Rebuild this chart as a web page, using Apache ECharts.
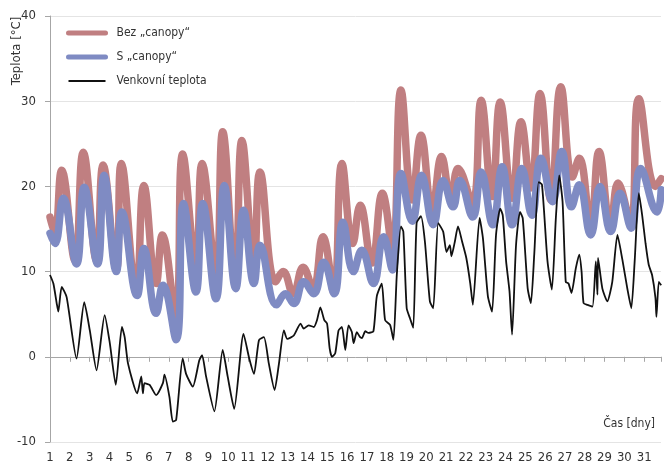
<!DOCTYPE html>
<html>
<head>
<meta charset="utf-8">
<script src="https://cdn.jsdelivr.net/npm/echarts@6/dist/echarts.min.js"></script>
<style>
  html, body { margin: 0; padding: 0; background: #fff; }
  #chart { width: 664px; height: 464px; }
</style>
</head>
<body>
<div id="chart"></div>
<script>
// [den, teplota °C]
var bezCanopy = [
  [1.0, 16.4], [1.25, 14.5], [1.59, 21.9], [2.26, 11.3], [2.68, 24.0], [3.35, 11.3],
  [3.68, 22.5], [4.35, 10.2], [4.6, 22.7], [5.35, 7.8], [5.74, 20.1], [6.36, 8.6],
  [6.67, 14.3], [7.34, 4.7], [7.7, 23.8], [8.37, 10.9], [8.68, 22.7], [9.38, 9.8],
  [9.72, 26.4], [10.35, 9.0], [10.69, 25.4], [11.3, 11.3], [11.6, 21.7], [12.39, 8.8],
  [12.77, 10.0], [13.28, 7.4], [13.78, 10.5], [14.28, 8.0], [14.78, 14.1], [15.32, 7.6],
  [15.74, 22.7], [16.29, 13.3], [16.66, 17.8], [17.25, 11.0], [17.78, 19.2], [18.29, 12.5],
  [18.72, 31.3], [19.29, 18.4], [19.73, 26.0], [20.3, 17.2], [20.77, 23.5], [21.24, 18.6],
  [21.6, 22.1], [22.32, 18.0], [22.77, 30.1], [23.32, 18.8], [23.73, 29.9], [24.33, 18.6],
  [24.78, 27.6], [25.28, 19.8], [25.74, 30.9], [26.29, 18.4], [26.79, 31.7], [27.38, 21.1],
  [27.72, 23.3], [28.3, 15.5], [28.72, 24.1], [29.31, 15.3], [29.68, 20.4], [30.31, 15.7],
  [30.73, 30.3], [31.57, 20.0], [31.86, 20.9]
];
var sCanopy = [
  [1.0, 14.5], [1.25, 13.3], [1.67, 18.6], [2.34, 10.9], [2.73, 19.9], [3.4, 10.9],
  [3.73, 21.3], [4.35, 10.0], [4.63, 17.0], [5.4, 7.2], [5.74, 12.7], [6.36, 5.1],
  [6.7, 8.4], [7.37, 2.0], [7.74, 18.0], [8.37, 7.6], [8.71, 18.0], [9.38, 6.8],
  [9.8, 20.1], [10.38, 8.0], [10.77, 17.2], [11.3, 8.6], [11.6, 13.1], [12.44, 6.1],
  [12.89, 7.4], [13.31, 6.25], [13.81, 8.8], [14.31, 7.4], [14.82, 11.1], [15.35, 7.4],
  [15.79, 15.8], [16.32, 10.0], [16.74, 12.5], [17.33, 8.6], [17.84, 14.1], [18.29, 10.2],
  [18.72, 21.5], [19.29, 15.9], [19.76, 21.3], [20.35, 15.5], [20.85, 20.7], [21.35, 17.6],
  [21.69, 20.7], [22.35, 16.4], [22.77, 21.7], [23.36, 15.5], [23.83, 22.3], [24.33, 15.5],
  [24.83, 22.1], [25.33, 16.6], [25.79, 23.3], [26.37, 18.2], [26.84, 24.1], [27.33, 17.6],
  [27.72, 20.2], [28.3, 14.3], [28.77, 20.0], [29.31, 14.7], [29.78, 19.2], [30.35, 15.1],
  [30.82, 22.1], [31.65, 17.0], [31.86, 19.6]
];
var venkovni = [
  [1.0, 9.6], [1.17, 8.6], [1.34, 6.25], [1.42, 5.3], [1.59, 8.2], [1.84, 7.0],
  [2.34, -0.2], [2.73, 6.4], [3.01, 3.1], [3.35, -1.6], [3.76, 4.9], [4.02, 1.6],
  [4.32, -3.3], [4.63, 3.5], [4.77, 2.3], [4.94, -0.8], [5.4, -4.3], [5.61, -2.3],
  [5.69, -4.3], [5.77, -3.1], [6.03, -3.3], [6.36, -4.5], [6.7, -3.1], [6.78, -2.1],
  [7.03, -4.7], [7.2, -7.6], [7.37, -7.4], [7.7, -0.2], [7.87, -2.0], [8.21, -3.5],
  [8.54, -0.4], [8.68, 0.2], [8.88, -2.3], [9.3, -6.4], [9.72, 0.8], [9.97, -2.3],
  [10.3, -6.1], [10.77, 2.7], [11.06, -0.2], [11.3, -2.0], [11.55, 1.95], [11.8, 2.3],
  [12.05, -0.8], [12.34, -3.9], [12.56, -0.8], [12.81, 3.1], [12.98, 2.1], [13.31, 2.5],
  [13.65, 3.9], [13.81, 3.3], [14.06, 3.7], [14.32, 3.5], [14.48, 4.3], [14.65, 5.8],
  [14.85, 4.3], [14.99, 3.9], [15.12, 1.0], [15.24, 0.0], [15.4, 0.4], [15.57, 3.1],
  [15.74, 3.5], [15.91, 0.8], [16.07, 3.7], [16.24, 2.9], [16.33, 1.6], [16.49, 2.9],
  [16.66, 2.3], [16.75, 2.2], [16.92, 3.0], [17.08, 2.8], [17.33, 3.0], [17.5, 7.1],
  [17.75, 8.6], [17.92, 4.3], [18.17, 3.75], [18.34, 2.0], [18.51, 9.6], [18.72, 15.3],
  [18.84, 14.7], [19.01, 5.7], [19.18, 4.5], [19.34, 3.4], [19.51, 15.7], [19.73, 16.5],
  [19.93, 13.5], [20.18, 6.5], [20.35, 5.7], [20.6, 15.7], [20.85, 14.7], [21.02, 12.3],
  [21.19, 13.1], [21.27, 11.8], [21.44, 13.5], [21.6, 15.3], [21.81, 13.5], [22.02, 11.6],
  [22.22, 8.6], [22.35, 6.1], [22.69, 16.3], [22.86, 13.9], [23.11, 7.1], [23.32, 5.3],
  [23.52, 14.3], [23.73, 17.4], [23.86, 16.6], [24.03, 11.2], [24.2, 7.7], [24.33, 2.6],
  [24.53, 13.1], [24.73, 17.0], [24.87, 16.25], [25.12, 8.0], [25.28, 6.3], [25.45, 12.0],
  [25.67, 20.5], [25.84, 20.2], [26.12, 11.2], [26.34, 7.9], [26.54, 16.25], [26.71, 21.3],
  [26.88, 18.2], [27.04, 8.8], [27.18, 8.6], [27.33, 7.5], [27.55, 10.4], [27.72, 12.0],
  [27.84, 10.0], [27.94, 6.3], [28.14, 6.1], [28.39, 5.9], [28.56, 11.2], [28.64, 7.3],
  [28.67, 11.6], [28.89, 8.0], [29.14, 6.5], [29.39, 8.8], [29.65, 14.3], [29.9, 11.4],
  [30.15, 8.0], [30.35, 5.7], [30.52, 11.2], [30.73, 19.2], [30.9, 16.6], [31.07, 13.3],
  [31.23, 10.8], [31.4, 9.6], [31.57, 6.9], [31.62, 4.7], [31.74, 8.8], [31.86, 8.4]
];
var seriesNames = ['Bez \u201Ecanopy\u201C', 'S \u201Ecanopy\u201C', 'Venkovní teplota'];

var font = '"DejaVu Sans Condensed", "DejaVu Sans", sans-serif';
var chart = echarts.init(document.getElementById('chart'));

var option = {
  animation: false,
  textStyle: { fontFamily: font },
  grid: { left: 50, right: 0, top: 16, bottom: 22 },
  legend: {
    orient: 'vertical',
    left: 61,
    top: 22,
    itemWidth: 37,
    itemHeight: 14,
    itemGap: 12,
    itemStyle: { opacity: 0 },
    textStyle: { fontFamily: font, fontSize: 12, color: '#333', padding: [0, 0, 0, 6] },
    data: [
      { name: seriesNames[0], lineStyle: { width: 5, cap: 'round' } },
      { name: seriesNames[1], lineStyle: { width: 5, cap: 'round' } },
      { name: seriesNames[2], lineStyle: { width: 1.8 } }
    ]
  },
  xAxis: {
    type: 'value',
    min: 1,
    max: 31.85,
    interval: 1,
    axisLine: { lineStyle: { color: '#a6a6a6' } },
    axisTick: { length: 5, lineStyle: { color: '#a6a6a6' } },
    axisLabel: {
      margin: 9, fontSize: 13, color: '#333', fontFamily: font,
      formatter: function (v) { return Number.isInteger(v) ? v : ''; }
    },
    splitLine: { show: false }
  },
  yAxis: {
    type: 'value',
    min: -10,
    max: 40,
    interval: 10,
    axisLine: { show: true, lineStyle: { color: '#a6a6a6' } },
    axisTick: { show: true, length: 5, lineStyle: { color: '#a6a6a6' } },
    axisLabel: { margin: 14, fontSize: 13, color: '#333', fontFamily: font },
    splitLine: { lineStyle: { color: '#e4e4e4' } }
  },
  graphic: [
    {
      type: 'text', x: 17, y: 51, rotation: Math.PI / 2,
      style: { text: 'Teplota [°C]', fontFamily: font, fontSize: 13, fill: '#333', align: 'center', verticalAlign: 'middle' }
    },
    {
      type: 'text', x: 655, y: 424,
      style: { text: 'Čas [dny]', fontFamily: font, fontSize: 12, fill: '#333', align: 'right', verticalAlign: 'middle' }
    }
  ],
  series: [
    {
      name: seriesNames[0], type: 'line', data: bezCanopy, smooth: 0.45, showSymbol: false, symbol: 'none',
      itemStyle: { color: '#c07f81' },
      lineStyle: { color: '#c07f81', width: 7.5, cap: 'round', join: 'round' }
    },
    {
      name: seriesNames[1], type: 'line', data: sCanopy, smooth: 0.45, showSymbol: false, symbol: 'none',
      itemStyle: { color: '#7f8bc3' },
      lineStyle: { color: '#7f8bc3', width: 7.5, cap: 'round', join: 'round' }
    },
    {
      name: seriesNames[2], type: 'line', data: venkovni, smooth: 0.2, showSymbol: false, symbol: 'none',
      itemStyle: { color: '#111' },
      lineStyle: { color: '#111', width: 1.8 }
    }
  ]
};

chart.setOption(option);
</script>
</body>
</html>
